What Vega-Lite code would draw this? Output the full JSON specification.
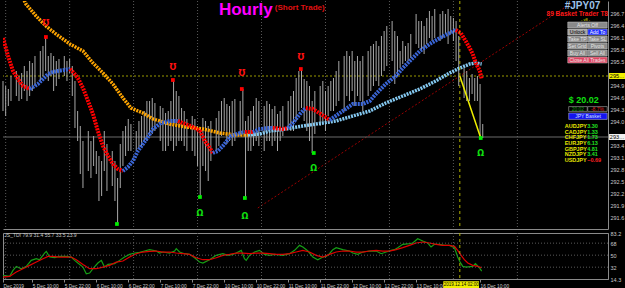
{
"$schema":"https://vega.github.io/schema/vega-lite/v6.json",
"background":"#000000",
"padding":0,
"spacing":0,
"config":{"view":{"stroke":null},"font":"Liberation Sans","axis":{"grid":false,"labelFont":"Liberation Sans","labelColor":"#d0d0d0","labelFontSize":6,"domainColor":"#8a8a8a","tickColor":"#8a8a8a","labelOverlap":false}},
"resolve":{"scale":{"color":"independent","x":"independent","y":"independent"}},
"datasets":{
"grid":[{"t":1},{"t":25},{"t":49},{"t":73},{"t":97},{"t":121},{"t":145},{"t":169},{"t":193}],
"candles":[{"t":0,"hi":295,"lo":294.25},{"t":1,"hi":294.875,"lo":294.125},{"t":2,"hi":294.8,"lo":294.375},{"t":3,"hi":295.125,"lo":294.5},{"t":5,"hi":295.25,"lo":294.625},{"t":6,"hi":295.125,"lo":294.5},{"t":7,"hi":295.2,"lo":294.55},{"t":8,"hi":295.375,"lo":294.75},{"t":9,"hi":295.25,"lo":294.5},{"t":10,"hi":295.5,"lo":294.625},{"t":11,"hi":295.45,"lo":294.75},{"t":12,"hi":295.625,"lo":294.875},{"t":14,"hi":295.75,"lo":295},{"t":15,"hi":295.875,"lo":295.125},{"t":16,"hi":296.1,"lo":295.25},{"t":17,"hi":295.625,"lo":295},{"t":18,"hi":295.7,"lo":295.125},{"t":19,"hi":295.625,"lo":294.75},{"t":20,"hi":295.5,"lo":294.875},{"t":21,"hi":295.55,"lo":295.05},{"t":23,"hi":295.625,"lo":295.125},{"t":24,"hi":295.5,"lo":295},{"t":25,"hi":295.55,"lo":295.2},{"t":26,"hi":295.375,"lo":294.625},{"t":27,"hi":295,"lo":293.825},{"t":28,"hi":294.25,"lo":293.5},{"t":29,"hi":293.875,"lo":292.675},{"t":30,"hi":293.5,"lo":292.325},{"t":32,"hi":293.75,"lo":292.75},{"t":33,"hi":293.5,"lo":292.575},{"t":34,"hi":293.625,"lo":292.875},{"t":35,"hi":293.25,"lo":292.675},{"t":36,"hi":293.125,"lo":292},{"t":37,"hi":293,"lo":292.125},{"t":38,"hi":293.75,"lo":292.75},{"t":39,"hi":293.425,"lo":292.25},{"t":41,"hi":293.25,"lo":292.375},{"t":42,"hi":293,"lo":292},{"t":43,"hi":292.575,"lo":291.425},{"t":44,"hi":293.425,"lo":292.325},{"t":45,"hi":293.75,"lo":292.875},{"t":46,"hi":293.875,"lo":293.125},{"t":47,"hi":294.05,"lo":293.25},{"t":48,"hi":293.925,"lo":293.25},{"t":50,"hi":293.75,"lo":293.25},{"t":51,"hi":294,"lo":293.3},{"t":52,"hi":294.125,"lo":293.375},{"t":53,"hi":294.25,"lo":293.5},{"t":54,"hi":294.5,"lo":293.5},{"t":55,"hi":294.5,"lo":293.625},{"t":56,"hi":294.575,"lo":293.675},{"t":57,"hi":294.45,"lo":293.75},{"t":59,"hi":294.375,"lo":293.5},{"t":60,"hi":294.325,"lo":293.25},{"t":61,"hi":294.2,"lo":293.25},{"t":62,"hi":294.25,"lo":293.375},{"t":63,"hi":294.5,"lo":293.5},{"t":64,"hi":295.025,"lo":293.25},{"t":65,"hi":294.75,"lo":293.375},{"t":66,"hi":294.625,"lo":293.5},{"t":67,"hi":294.325,"lo":293.5},{"t":68,"hi":294.25,"lo":293.375},{"t":69,"hi":294.05,"lo":293.25},{"t":71,"hi":294.125,"lo":293.25},{"t":72,"hi":294.05,"lo":293.125},{"t":73,"hi":293.875,"lo":292.875},{"t":74,"hi":293.75,"lo":292.1},{"t":75,"hi":294.075,"lo":292.875},{"t":76,"hi":294,"lo":292.75},{"t":77,"hi":293.875,"lo":292.5},{"t":78,"hi":294,"lo":293},{"t":80,"hi":294.075,"lo":293.25},{"t":81,"hi":294.25,"lo":293.375},{"t":82,"hi":294.5,"lo":293.625},{"t":83,"hi":294.575,"lo":293.75},{"t":84,"hi":294.425,"lo":293.425},{"t":85,"hi":294.375,"lo":293.5},{"t":86,"hi":294.5,"lo":293.375},{"t":87,"hi":294.55,"lo":293.5},{"t":89,"hi":294.5,"lo":293.625},{"t":90,"hi":294.8,"lo":293.675},{"t":91,"hi":294,"lo":292.075},{"t":92,"hi":294.125,"lo":293.25},{"t":93,"hi":294.25,"lo":293.25},{"t":94,"hi":294.375,"lo":293.375},{"t":95,"hi":294.575,"lo":293.5},{"t":96,"hi":294.5,"lo":293.375},{"t":98,"hi":294.375,"lo":293.25},{"t":99,"hi":294.5,"lo":293.5},{"t":100,"hi":294.425,"lo":293.5},{"t":101,"hi":294.3,"lo":293.375},{"t":102,"hi":294.375,"lo":293.5},{"t":103,"hi":294.175,"lo":293.25},{"t":104,"hi":294.25,"lo":293.5},{"t":105,"hi":294.375,"lo":293.625},{"t":107,"hi":294.5,"lo":293.825},{"t":108,"hi":294.625,"lo":293.75},{"t":109,"hi":294.75,"lo":293.75},{"t":110,"hi":295.075,"lo":294},{"t":111,"hi":295.25,"lo":294.25},{"t":112,"hi":295.3,"lo":294.325},{"t":113,"hi":295.05,"lo":294},{"t":114,"hi":295,"lo":293.75},{"t":115,"hi":294.875,"lo":293.5},{"t":116,"hi":294.5,"lo":293.2},{"t":117,"hi":294.75,"lo":293.675},{"t":119,"hi":294.875,"lo":293.875},{"t":120,"hi":295,"lo":294},{"t":121,"hi":294.75,"lo":293.75},{"t":122,"hi":294.875,"lo":294.125},{"t":123,"hi":295,"lo":294.25},{"t":124,"hi":295.075,"lo":294.25},{"t":125,"hi":295.25,"lo":294.375},{"t":126,"hi":295.5,"lo":294.5},{"t":128,"hi":295.625,"lo":294.25},{"t":129,"hi":295.75,"lo":294.625},{"t":130,"hi":295.625,"lo":294.5},{"t":131,"hi":295.75,"lo":294.75},{"t":132,"hi":295.5,"lo":294.375},{"t":133,"hi":295.625,"lo":294.625},{"t":134,"hi":295.5,"lo":294.5},{"t":135,"hi":295.625,"lo":294.25},{"t":137,"hi":295.75,"lo":294.625},{"t":138,"hi":295.875,"lo":294.75},{"t":139,"hi":295.925,"lo":294.875},{"t":140,"hi":296,"lo":295},{"t":141,"hi":295.875,"lo":294.875},{"t":142,"hi":296.125,"lo":295.125},{"t":143,"hi":296.25,"lo":295.25},{"t":144,"hi":296.375,"lo":295.375},{"t":146,"hi":296.5,"lo":295.5},{"t":147,"hi":296.25,"lo":294.925},{"t":148,"hi":296.125,"lo":295.125},{"t":149,"hi":295.75,"lo":295.325},{"t":150,"hi":296,"lo":295.425},{"t":151,"hi":295.875,"lo":295.5},{"t":152,"hi":295.95,"lo":295.5},{"t":153,"hi":296.175,"lo":295.575},{"t":155,"hi":296.675,"lo":295.925},{"t":156,"hi":296.5,"lo":295.825},{"t":157,"hi":296.5,"lo":295.75},{"t":158,"hi":296.375,"lo":295.675},{"t":159,"hi":296.575,"lo":295.925},{"t":160,"hi":296.75,"lo":296.075},{"t":161,"hi":296.625,"lo":296},{"t":162,"hi":296.8,"lo":296.075},{"t":164,"hi":296.675,"lo":296},{"t":165,"hi":296.75,"lo":296.075},{"t":166,"hi":296.675,"lo":296.175},{"t":167,"hi":296.8,"lo":295.925},{"t":168,"hi":296.625,"lo":296.175},{"t":169,"hi":296.575,"lo":296},{"t":170,"hi":296.5,"lo":295.5},{"t":171,"hi":296.125,"lo":294.875},{"t":173,"hi":295.325,"lo":294.575},{"t":174,"hi":295.25,"lo":294.5},{"t":175,"hi":295.075,"lo":294.5},{"t":176,"hi":295.175,"lo":294.675},{"t":177,"hi":295.075,"lo":294.5},{"t":178,"hi":295.125,"lo":294.5},{"t":179,"hi":294.925,"lo":293.575},{"t":180,"hi":293.925,"lo":293.575}],
"fast":[{"t":0,"p":296.075,"s":1,"c":"dn"},{"t":1.9,"p":295.625,"s":1,"c":"dn"},{"t":3.75,"p":295.25,"s":1,"c":"dn"},{"t":5.6,"p":295.05,"s":1,"c":"dn"},{"t":7.5,"p":294.875,"s":1,"c":"dn"},{"t":10.1,"p":294.8,"s":1,"c":"dn"},
{"t":10.1,"p":294.8,"s":2,"c":"up"},{"t":13.1,"p":294.925,"s":2,"c":"up"},{"t":15,"p":295.05,"s":2,"c":"up"},{"t":16.9,"p":295.175,"s":2,"c":"up"},{"t":18.75,"p":295.225,"s":2,"c":"up"},{"t":20.6,"p":295.25,"s":2,"c":"up"},{"t":25.1,"p":295.3,"s":2,"c":"up"},
{"t":25.1,"p":295.3,"s":3,"c":"dn"},{"t":26.25,"p":295.225,"s":3,"c":"dn"},{"t":28.1,"p":295.075,"s":3,"c":"dn"},{"t":30,"p":294.825,"s":3,"c":"dn"},{"t":31.9,"p":294.5,"s":3,"c":"dn"},{"t":33.75,"p":294.175,"s":3,"c":"dn"},{"t":35.6,"p":293.75,"s":3,"c":"dn"},{"t":37.5,"p":293.375,"s":3,"c":"dn"},{"t":39.4,"p":293.125,"s":3,"c":"dn"},{"t":41.25,"p":292.925,"s":3,"c":"dn"},{"t":43.1,"p":292.8,"s":3,"c":"dn"},{"t":45,"p":292.75,"s":3,"c":"dn"},
{"t":45,"p":292.75,"s":4,"c":"up"},{"t":46.9,"p":292.85,"s":4,"c":"up"},{"t":48.75,"p":293,"s":4,"c":"up"},{"t":50.6,"p":293.25,"s":4,"c":"up"},{"t":52.5,"p":293.425,"s":4,"c":"up"},{"t":54.4,"p":293.6,"s":4,"c":"up"},{"t":56.25,"p":293.8,"s":4,"c":"up"},{"t":59.25,"p":293.95,"s":4,"c":"up"},{"t":62.6,"p":294,"s":4,"c":"up"},{"t":65.6,"p":294,"s":4,"c":"up"},
{"t":65.6,"p":294,"s":5,"c":"dn"},{"t":67.5,"p":293.95,"s":5,"c":"dn"},{"t":71.25,"p":293.85,"s":5,"c":"dn"},{"t":73.9,"p":293.75,"s":5,"c":"dn"},{"t":75.75,"p":293.5,"s":5,"c":"dn"},{"t":77.6,"p":293.325,"s":5,"c":"dn"},{"t":78.75,"p":293.2,"s":5,"c":"dn"},
{"t":78.75,"p":293.2,"s":6,"c":"up"},{"t":80.6,"p":293.25,"s":6,"c":"up"},{"t":82.5,"p":293.375,"s":6,"c":"up"},{"t":85.5,"p":293.625,"s":6,"c":"up"},{"t":88.9,"p":293.7,"s":6,"c":"up"},{"t":90.75,"p":293.725,"s":6,"c":"up"},
{"t":90.75,"p":293.725,"s":7,"c":"dn"},{"t":93.75,"p":293.725,"s":7,"c":"dn"},
{"t":93.75,"p":293.725,"s":8,"c":"up"},{"t":96.4,"p":293.8,"s":8,"c":"up"},{"t":100.1,"p":293.825,"s":8,"c":"up"},{"t":101.25,"p":293.825,"s":8,"c":"up"},
{"t":101.25,"p":293.825,"s":9,"c":"dn"},{"t":105,"p":293.8,"s":9,"c":"dn"},{"t":106.9,"p":293.825,"s":9,"c":"dn"},
{"t":106.9,"p":293.825,"s":10,"c":"up"},{"t":108.75,"p":293.95,"s":10,"c":"up"},{"t":111.4,"p":294.175,"s":10,"c":"up"},{"t":113.6,"p":294.325,"s":10,"c":"up"},
{"t":113.6,"p":294.325,"s":11,"c":"dn"},{"t":116.25,"p":294.3,"s":11,"c":"dn"},{"t":119.25,"p":294.175,"s":11,"c":"dn"},{"t":122.6,"p":294.025,"s":11,"c":"dn"},
{"t":122.6,"p":294.025,"s":12,"c":"up"},{"t":127.5,"p":294.25,"s":12,"c":"up"},{"t":131.25,"p":294.425,"s":12,"c":"up"},{"t":135,"p":294.425,"s":12,"c":"up"},{"t":137.6,"p":294.5,"s":12,"c":"up"},{"t":139.9,"p":294.675,"s":12,"c":"up"},{"t":143.6,"p":294.925,"s":12,"c":"up"},{"t":147.4,"p":295.125,"s":12,"c":"up"},{"t":150,"p":295.325,"s":12,"c":"up"},{"t":153.75,"p":295.575,"s":12,"c":"up"},{"t":156.4,"p":295.75,"s":12,"c":"up"},{"t":160.1,"p":295.925,"s":12,"c":"up"},{"t":163.9,"p":296.075,"s":12,"c":"up"},{"t":167.6,"p":296.2,"s":12,"c":"up"},{"t":169.9,"p":296.275,"s":12,"c":"up"},
{"t":169.9,"p":296.275,"s":13,"c":"dn"},{"t":171.75,"p":296.2,"s":13,"c":"dn"},{"t":173.6,"p":296,"s":13,"c":"dn"},{"t":175.1,"p":295.825,"s":13,"c":"dn"},{"t":176.25,"p":295.675,"s":13,"c":"dn"},{"t":177.4,"p":295.45,"s":13,"c":"dn"},{"t":178.9,"p":295.25,"s":13,"c":"dn"},{"t":179.6,"p":295.05,"s":13,"c":"dn"}],
"slow":[{"t":7,"p":297.15,"s":1,"c":"old"},{"t":8.6,"p":296.925,"s":1,"c":"old"},{"t":12.4,"p":296.625,"s":1,"c":"old"},{"t":16.1,"p":296.375,"s":1,"c":"old"},{"t":19.9,"p":296.175,"s":1,"c":"old"},{"t":25.1,"p":295.925,"s":1,"c":"old"},{"t":30,"p":295.75,"s":1,"c":"old"},{"t":33.75,"p":295.45,"s":1,"c":"old"},{"t":37.5,"p":295.2,"s":1,"c":"old"},{"t":41.25,"p":294.925,"s":1,"c":"old"},{"t":45,"p":294.575,"s":1,"c":"old"},{"t":48,"p":294.325,"s":1,"c":"old"},{"t":52.5,"p":294.2,"s":1,"c":"old"},{"t":56.25,"p":294.05,"s":1,"c":"old"},{"t":62.6,"p":293.925,"s":1,"c":"old"},{"t":68.6,"p":293.85,"s":1,"c":"old"},{"t":75,"p":293.8,"s":1,"c":"old"},{"t":81.4,"p":293.7,"s":1,"c":"old"},{"t":87.4,"p":293.65,"s":1,"c":"old"},{"t":91.9,"p":293.65,"s":1,"c":"old"},
{"t":91.9,"p":293.65,"s":2,"c":"new"},{"t":96.4,"p":293.675,"s":2,"c":"new"},{"t":100.1,"p":293.75,"s":2,"c":"new"},{"t":106.1,"p":293.8,"s":2,"c":"new"},{"t":112.5,"p":293.875,"s":2,"c":"new"},{"t":120,"p":293.95,"s":2,"c":"new"},{"t":124.9,"p":294,"s":2,"c":"new"},{"t":131.25,"p":294.125,"s":2,"c":"new"},{"t":137.6,"p":294.25,"s":2,"c":"new"},{"t":143.6,"p":294.45,"s":2,"c":"new"},{"t":150,"p":294.625,"s":2,"c":"new"},{"t":156.4,"p":294.8,"s":2,"c":"new"},{"t":162.4,"p":295,"s":2,"c":"new"},{"t":167.6,"p":295.2,"s":2,"c":"new"},{"t":171.4,"p":295.325,"s":2,"c":"new"},{"t":175.1,"p":295.425,"s":2,"c":"new"},{"t":177.4,"p":295.45,"s":2,"c":"new"},{"t":179.6,"p":295.425,"s":2,"c":"new"}],
"dots":[{"t":16.1,"p":296.1,"c":"hi"},{"t":63.75,"p":295.025,"c":"hi"},{"t":89.6,"p":294.8,"c":"hi"},{"t":111.75,"p":295.3,"c":"hi"},{"t":42.75,"p":291.425,"c":"lo"},{"t":73.9,"p":292.1,"c":"lo"},{"t":90.75,"p":292.075,"c":"lo"},{"t":116.6,"p":293.2,"c":"lo"},{"t":179.25,"p":293.575,"c":"lo"}],
"syms":[{"t":16.1,"p":296.5,"c":"hi"},{"t":63.75,"p":295.4,"c":"hi"},{"t":89.6,"p":295.25,"c":"hi"},{"t":111.75,"p":295.65,"c":"hi"},{"t":73.9,"p":291.675,"c":"lo"},{"t":90.75,"p":291.6,"c":"lo"},{"t":116.6,"p":292.8,"c":"lo"},{"t":179.25,"p":293.175,"c":"lo"}],
"btn":[{"lab":"Alerts Off","k":"g","x1":211.9,"x2":226.7,"y1":296.475,"y2":296.325,"cx":219.3,"cy":296.4},{"lab":"Unlock","k":"u","x1":211.9,"x2":219.2,"y1":296.3,"y2":296.15,"cx":215.55,"cy":296.225},{"lab":"Add To","k":"b","x1":219.4,"x2":226.7,"y1":296.3,"y2":296.15,"cx":223.05,"cy":296.225},{"lab":"Take TP","k":"g","x1":211.9,"x2":219.2,"y1":296.125,"y2":295.975,"cx":215.55,"cy":296.05},{"lab":"Take SL","k":"g","x1":219.4,"x2":226.7,"y1":296.125,"y2":295.975,"cx":223.05,"cy":296.05},{"lab":"Set Grid","k":"g","x1":211.9,"x2":219.2,"y1":295.95,"y2":295.8,"cx":215.55,"cy":295.875},{"lab":"Pivots","k":"g","x1":219.4,"x2":226.7,"y1":295.95,"y2":295.8,"cx":223.05,"cy":295.875},{"lab":"Buy All","k":"g","x1":211.9,"x2":219.2,"y1":295.775,"y2":295.625,"cx":215.55,"cy":295.7},{"lab":"Sell All","k":"g","x1":219.4,"x2":226.7,"y1":295.775,"y2":295.625,"cx":223.05,"cy":295.7},{"lab":"Close All Trades","k":"r","x1":211.9,"x2":226.7,"y1":295.6,"y2":295.45,"cx":219.3,"cy":295.525},{"lab":"20.02","k":"bx","x1":212.25,"x2":219.2,"y1":294.36,"y2":294.24,"cx":215.7,"cy":294.3},{"lab":"-8.7%","k":"bn","x1":219.4,"x2":226.7,"y1":294.36,"y2":294.24,"cx":223.05,"cy":294.3},{"lab":"JPY Basket","k":"jb","x1":212.25,"x2":226.7,"y1":294.2,"y2":294.04,"cx":219.5,"cy":294.12}],
"pairs":[{"n":"AUDJPY","v":3.30,"p":293.875},{"n":"CADJPY","v":1.33,"p":293.725},{"n":"CHFJPY","v":1.73,"p":293.59},{"n":"EURJPY","v":6.13,"p":293.45},{"n":"GBPJPY","v":4.81,"p":293.31},{"n":"NZDJPY","v":3.41,"p":293.175},{"n":"USDJPY","v":-0.69,"p":293.025}],
"tdi":[{"t":0,"v":19.7,"s":"g"},{"t":2.5,"v":18.2,"s":"g"},{"t":3.75,"v":27.2,"s":"g"},{"t":5,"v":33.2,"s":"g"},{"t":6.9,"v":29.7,"s":"g"},{"t":8.75,"v":33.2,"s":"g"},{"t":10.6,"v":42.2,"s":"g"},{"t":12.5,"v":44.7,"s":"g"},{"t":13.75,"v":43.2,"s":"g"},{"t":15.6,"v":53.2,"s":"g"},{"t":16.25,"v":55.7,"s":"g"},{"t":17.5,"v":47.2,"s":"g"},{"t":19.4,"v":46.2,"s":"g"},{"t":21.25,"v":48.2,"s":"g"},{"t":23.75,"v":48.2,"s":"g"},{"t":25.6,"v":47.2,"s":"g"},{"t":26.9,"v":42.2,"s":"g"},{"t":28.1,"v":38.2,"s":"g"},{"t":30,"v":32.2,"s":"g"},{"t":31.25,"v":22.2,"s":"g"},{"t":32.5,"v":23.2,"s":"g"},{"t":33.75,"v":29.7,"s":"g"},{"t":35.6,"v":38.2,"s":"g"},{"t":36.9,"v":42.2,"s":"g"},{"t":38.1,"v":32.2,"s":"g"},{"t":39.4,"v":36.2,"s":"g"},{"t":41.9,"v":37.2,"s":"g"},{"t":43.75,"v":42.2,"s":"g"},{"t":45.6,"v":47.2,"s":"g"},{"t":47.5,"v":51.2,"s":"g"},{"t":49.4,"v":53.2,"s":"g"},{"t":51.25,"v":54.2,"s":"g"},{"t":53.1,"v":56.2,"s":"g"},{"t":55,"v":58.2,"s":"g"},{"t":57.5,"v":56.2,"s":"g"},{"t":58.75,"v":53.2,"s":"g"},{"t":60,"v":54.7,"s":"g"},{"t":62.5,"v":53.2,"s":"g"},{"t":64.4,"v":56.2,"s":"g"},{"t":65,"v":59.7,"s":"g"},{"t":66.25,"v":54.7,"s":"g"},{"t":68.1,"v":52.2,"s":"g"},{"t":70,"v":51.2,"s":"g"},{"t":71.9,"v":46.2,"s":"g"},{"t":73.75,"v":39.7,"s":"g"},{"t":75,"v":38.2,"s":"g"},{"t":77.5,"v":43.2,"s":"g"},{"t":80,"v":49.7,"s":"g"},{"t":82.5,"v":52.2,"s":"g"},{"t":84.4,"v":49.7,"s":"g"},{"t":86.25,"v":51.2,"s":"g"},{"t":87.5,"v":53.2,"s":"g"},{"t":89.4,"v":57.2,"s":"g"},{"t":90.6,"v":44.7,"s":"g"},{"t":91.25,"v":42.2,"s":"g"},{"t":92.5,"v":49.7,"s":"g"},{"t":94.4,"v":54.7,"s":"g"},{"t":96.25,"v":57.2,"s":"g"},{"t":98.1,"v":51.2,"s":"g"},{"t":100,"v":49.7,"s":"g"},{"t":101.9,"v":51.2,"s":"g"},{"t":105,"v":49.7,"s":"g"},{"t":107.5,"v":52.2,"s":"g"},{"t":109.4,"v":57.2,"s":"g"},{"t":111.25,"v":64.7,"s":"g"},{"t":112.5,"v":62.2,"s":"g"},{"t":114.4,"v":56.2,"s":"g"},{"t":116.25,"v":47.2,"s":"g"},{"t":118.1,"v":43.2,"s":"g"},{"t":120,"v":47.2,"s":"g"},{"t":121.25,"v":48.2,"s":"g"},{"t":122.5,"v":52.2,"s":"g"},{"t":123.75,"v":58.2,"s":"g"},{"t":125,"v":61.2,"s":"g"},{"t":127.5,"v":58.2,"s":"g"},{"t":130,"v":56.2,"s":"g"},{"t":131.25,"v":53.2,"s":"g"},{"t":133.1,"v":51.2,"s":"g"},{"t":135,"v":54.7,"s":"g"},{"t":137.5,"v":56.2,"s":"g"},{"t":140,"v":56.2,"s":"g"},{"t":141.9,"v":52.2,"s":"g"},{"t":143.75,"v":54.7,"s":"g"},{"t":145.6,"v":57.2,"s":"g"},{"t":146.9,"v":58.2,"s":"g"},{"t":148.1,"v":61.2,"s":"g"},{"t":150,"v":66.2,"s":"g"},{"t":152.5,"v":67.2,"s":"g"},{"t":153.75,"v":68.2,"s":"g"},{"t":155.6,"v":74.7,"s":"g"},{"t":157.5,"v":71.2,"s":"g"},{"t":159.4,"v":68.2,"s":"g"},{"t":160.6,"v":62.2,"s":"g"},{"t":161.9,"v":66.2,"s":"g"},{"t":163.75,"v":66.2,"s":"g"},{"t":165.6,"v":64.7,"s":"g"},{"t":167.5,"v":64.7,"s":"g"},{"t":169.4,"v":61.2,"s":"g"},{"t":170.6,"v":47.2,"s":"g"},{"t":171.5,"v":39.7,"s":"g"},{"t":172.5,"v":33.2,"s":"g"},{"t":173.75,"v":32.2,"s":"g"},{"t":176.25,"v":33.2,"s":"g"},{"t":177.25,"v":37.2,"s":"g"},{"t":178.75,"v":31.2,"s":"g"},{"t":179.6,"v":26.2,"s":"g"},
{"t":0,"v":17.2,"s":"r"},{"t":2.5,"v":18.2,"s":"r"},{"t":5,"v":24.7,"s":"r"},{"t":7.5,"v":29.7,"s":"r"},{"t":10,"v":34.7,"s":"r"},{"t":12.5,"v":39.7,"s":"r"},{"t":15,"v":44.7,"s":"r"},{"t":16.9,"v":48.2,"s":"r"},{"t":18.75,"v":48.2,"s":"r"},{"t":21.25,"v":47.2,"s":"r"},{"t":23.75,"v":47.2,"s":"r"},{"t":25.6,"v":47.2,"s":"r"},{"t":27.5,"v":43.2,"s":"r"},{"t":30,"v":36.2,"s":"r"},{"t":32.5,"v":29.7,"s":"r"},{"t":35,"v":29.7,"s":"r"},{"t":37.5,"v":32.2,"s":"r"},{"t":40,"v":34.7,"s":"r"},{"t":42.5,"v":39.7,"s":"r"},{"t":45,"v":41.2,"s":"r"},{"t":47.5,"v":47.2,"s":"r"},{"t":50,"v":52.2,"s":"r"},{"t":52.5,"v":54.7,"s":"r"},{"t":55,"v":55.7,"s":"r"},{"t":57.5,"v":56.2,"s":"r"},{"t":60,"v":54.7,"s":"r"},{"t":62.5,"v":54.7,"s":"r"},{"t":65,"v":53.2,"s":"r"},{"t":67.5,"v":52.2,"s":"r"},{"t":70,"v":51.2,"s":"r"},{"t":72.5,"v":46.2,"s":"r"},{"t":75,"v":43.2,"s":"r"},{"t":77.5,"v":43.2,"s":"r"},{"t":80,"v":46.2,"s":"r"},{"t":82.5,"v":49.7,"s":"r"},{"t":85,"v":51.2,"s":"r"},{"t":87.5,"v":53.2,"s":"r"},{"t":90,"v":53.2,"s":"r"},{"t":92.5,"v":52.2,"s":"r"},{"t":95,"v":53.2,"s":"r"},{"t":97.5,"v":53.2,"s":"r"},{"t":100,"v":52.2,"s":"r"},{"t":102.5,"v":51.2,"s":"r"},{"t":105,"v":51.2,"s":"r"},{"t":107.5,"v":52.2,"s":"r"},{"t":110,"v":54.7,"s":"r"},{"t":112.5,"v":57.2,"s":"r"},{"t":115,"v":54.7,"s":"r"},{"t":117.5,"v":49.7,"s":"r"},{"t":120,"v":47.2,"s":"r"},{"t":122.5,"v":51.2,"s":"r"},{"t":125,"v":54.7,"s":"r"},{"t":127.5,"v":56.2,"s":"r"},{"t":130,"v":56.2,"s":"r"},{"t":132.5,"v":54.7,"s":"r"},{"t":135,"v":54.7,"s":"r"},{"t":137.5,"v":56.2,"s":"r"},{"t":140,"v":57.2,"s":"r"},{"t":142.5,"v":56.2,"s":"r"},{"t":145,"v":56.2,"s":"r"},{"t":147.5,"v":58.2,"s":"r"},{"t":150,"v":61.2,"s":"r"},{"t":152.5,"v":64.7,"s":"r"},{"t":155,"v":68.2,"s":"r"},{"t":157.5,"v":69.7,"s":"r"},{"t":160,"v":68.2,"s":"r"},{"t":162.5,"v":66.2,"s":"r"},{"t":165,"v":64.7,"s":"r"},{"t":167.5,"v":64.7,"s":"r"},{"t":169.4,"v":63.2,"s":"r"},{"t":170.6,"v":57.2,"s":"r"},{"t":171.9,"v":49.7,"s":"r"},{"t":173.1,"v":43.2,"s":"r"},{"t":174.4,"v":38.2,"s":"r"},{"t":176.25,"v":34.7,"s":"r"},{"t":178.1,"v":33.2,"s":"r"},{"t":179.6,"v":31.2,"s":"r"}]
},
"vconcat":[
{"width":605,"height":228,
"layer":[
{"data":{"values":[{"t":95.6,"p":291.825,"t2":214.5,"p2":297}]},"mark":{"type":"rule","color":"#9a0000","strokeDash":[2,2],"clip":true},
 "encoding":{"x":{"field":"t","type":"quantitative","scale":{"domain":[0,227],"nice":false,"zero":false},"axis":{"orient":"bottom","labels":false,"ticks":false,"title":null,"domainColor":"#8a8a8a","minExtent":0,"maxExtent":0,"labelPadding":0}},"x2":{"field":"t2"},
 "y":{"field":"p","type":"quantitative","scale":{"domain":[291.3,297],"nice":false,"zero":false},"axis":{"orient":"right","title":null,"values":[291.6,291.9,292.2,292.5,292.8,293.1,293.4,294,294.3,294.6,294.9,295.5,295.8,296.1,296.4,296.7],"tickCount":60,"format":".1f","ticks":false,"tickSize":0,"labelPadding":2,"labelFontSize":5.5,"labelOverlap":false,"labelColor":"#c8c8c8","domainColor":"#8a8a8a"}},"y2":{"field":"p2"}}},
{"data":{"name":"grid"},"mark":{"type":"rule","color":"#5a5a5a","strokeDash":[1,2]},
 "encoding":{"x":{"field":"t","type":"quantitative","scale":{"domain":[0,227],"nice":false,"zero":false},"axis":{"title":null}}}},
{"data":{"values":[{"p":295.125}]},"mark":{"type":"rule","color":"#9a9a00","strokeDash":[2,2]},
 "encoding":{"y":{"field":"p","type":"quantitative","scale":{"domain":[291.3,297],"nice":false,"zero":false},"axis":{"title":null}}}},
{"data":{"values":[{"p":293.6}]},"mark":{"type":"rule","color":"#6a6a6a"},
 "encoding":{"y":{"field":"p","type":"quantitative","scale":{"domain":[291.3,297],"nice":false,"zero":false},"axis":{"title":null}}}},
{"data":{"name":"candles"},"mark":{"type":"rule","color":"#a8a8a8","strokeWidth":1},
 "encoding":{"x":{"field":"t","type":"quantitative","scale":{"domain":[0,227],"nice":false,"zero":false},"axis":{"title":null}},"y":{"field":"hi","type":"quantitative","scale":{"domain":[291.3,297],"nice":false,"zero":false},"axis":{"title":null}},"y2":{"field":"lo"}}},
{"data":{"name":"slow"},"mark":{"type":"line","strokeWidth":3.5,"strokeDash":[2,1],"strokeCap":"butt","clip":true},
 "encoding":{"x":{"field":"t","type":"quantitative","scale":{"domain":[0,227],"nice":false,"zero":false},"axis":{"title":null}},"y":{"field":"p","type":"quantitative","scale":{"domain":[291.3,297],"nice":false,"zero":false},"axis":{"title":null}},"detail":{"field":"s"},"color":{"field":"c","type":"nominal","scale":{"domain":["dn","up","old","new"],"range":["#ff0000","#3a66d8","#ffa500","#84c8f0"]},"legend":null}}},
{"data":{"name":"fast"},"mark":{"type":"line","strokeWidth":4,"strokeDash":[2,1],"strokeCap":"butt","clip":true},
 "encoding":{"x":{"field":"t","type":"quantitative","scale":{"domain":[0,227],"nice":false,"zero":false},"axis":{"title":null}},"y":{"field":"p","type":"quantitative","scale":{"domain":[291.3,297],"nice":false,"zero":false},"axis":{"title":null}},"detail":{"field":"s"},"color":{"field":"c","type":"nominal","scale":{"domain":["dn","up","old","new"],"range":["#ff0000","#3a66d8","#ffa500","#84c8f0"]},"legend":null}}},
{"data":{"values":[{"t":171.4}]},"mark":{"type":"rule","color":"#b0b000","strokeDash":[3,3]},
 "encoding":{"x":{"field":"t","type":"quantitative","scale":{"domain":[0,227],"nice":false,"zero":false},"axis":{"title":null}}}},
{"data":{"values":[{"t":171.4,"p":295.125,"t2":179.25,"p2":293.575}]},"mark":{"type":"rule","color":"#f0f000","strokeWidth":1.5},
 "encoding":{"x":{"field":"t","type":"quantitative","scale":{"domain":[0,227],"nice":false,"zero":false},"axis":{"title":null}},"x2":{"field":"t2"},"y":{"field":"p","type":"quantitative","scale":{"domain":[291.3,297],"nice":false,"zero":false},"axis":{"title":null}},"y2":{"field":"p2"}}},
{"data":{"name":"dots"},"mark":{"type":"point","shape":"square","filled":true,"size":14,"opacity":1},
 "encoding":{"x":{"field":"t","type":"quantitative","scale":{"domain":[0,227],"nice":false,"zero":false},"axis":{"title":null}},"y":{"field":"p","type":"quantitative","scale":{"domain":[291.3,297],"nice":false,"zero":false},"axis":{"title":null}},"color":{"condition":{"test":"datum.c=='hi'","value":"#ff0000"},"value":"#00ee00"}}},
{"data":{"name":"syms"},"transform":[{"filter":"datum.c=='hi'"}],"mark":{"type":"text","text":"Ω","fontSize":8,"fontWeight":"bold","font":"DejaVu Sans","angle":180,"color":"#ff1010","baseline":"middle"},
 "encoding":{"x":{"field":"t","type":"quantitative","scale":{"domain":[0,227],"nice":false,"zero":false},"axis":{"title":null}},"y":{"field":"p","type":"quantitative","scale":{"domain":[291.3,297],"nice":false,"zero":false},"axis":{"title":null}}}},
{"data":{"name":"syms"},"transform":[{"filter":"datum.c=='lo'"}],"mark":{"type":"text","text":"Ω","fontSize":8,"fontWeight":"bold","font":"DejaVu Sans","color":"#10e010","baseline":"middle"},
 "encoding":{"x":{"field":"t","type":"quantitative","scale":{"domain":[0,227],"nice":false,"zero":false},"axis":{"title":null}},"y":{"field":"p","type":"quantitative","scale":{"domain":[291.3,297],"nice":false,"zero":false},"axis":{"title":null}}}},
{"data":{"values":[{"t":81,"p":296.65,"txt":"Hourly"}]},"mark":{"type":"text","fontSize":17,"fontWeight":"bold","color":"#ff00ff","align":"left","baseline":"alphabetic","clip":true},
 "encoding":{"x":{"field":"t","type":"quantitative","scale":{"domain":[0,227],"nice":false,"zero":false},"axis":{"title":null}},"y":{"field":"p","type":"quantitative","scale":{"domain":[291.3,297],"nice":false,"zero":false},"axis":{"title":null}},"text":{"field":"txt"}}},
{"data":{"values":[{"t":102,"p":296.775,"txt":"(Short Trade)"}]},"mark":{"type":"text","fontSize":8,"fontWeight":"bold","color":"#e01010","align":"left","baseline":"alphabetic","clip":true},
 "encoding":{"x":{"field":"t","type":"quantitative","scale":{"domain":[0,227],"nice":false,"zero":false},"axis":{"title":null}},"y":{"field":"p","type":"quantitative","scale":{"domain":[291.3,297],"nice":false,"zero":false},"axis":{"title":null}},"text":{"field":"txt"}}},
{"data":{"values":[{"t":210.75,"p":296.8,"txt":"#JPY07"}]},"mark":{"type":"text","fontSize":10,"fontWeight":"bold","color":"#9cc3ea","align":"left","baseline":"alphabetic","clip":true},
 "encoding":{"x":{"field":"t","type":"quantitative","scale":{"domain":[0,227],"nice":false,"zero":false},"axis":{"title":null}},"y":{"field":"p","type":"quantitative","scale":{"domain":[291.3,297],"nice":false,"zero":false},"axis":{"title":null}},"text":{"field":"txt"}}},
{"data":{"values":[{"t":227,"p":296.6175,"txt":"89 Basket Trader T8"}]},"mark":{"type":"text","fontSize":6.5,"fontWeight":"bold","color":"#ff1a1a","align":"right","baseline":"alphabetic","clip":true},
 "encoding":{"x":{"field":"t","type":"quantitative","scale":{"domain":[0,227],"nice":false,"zero":false},"axis":{"title":null}},"y":{"field":"p","type":"quantitative","scale":{"domain":[291.3,297],"nice":false,"zero":false},"axis":{"title":null}},"text":{"field":"txt"}}},
{"data":{"values":[{"t":218.6,"p":296.5,"txt":"- v8 -"}]},"mark":{"type":"text","fontSize":4,"color":"#e0e000","align":"center","baseline":"alphabetic","clip":true},
 "encoding":{"x":{"field":"t","type":"quantitative","scale":{"domain":[0,227],"nice":false,"zero":false},"axis":{"title":null}},"y":{"field":"p","type":"quantitative","scale":{"domain":[291.3,297],"nice":false,"zero":false},"axis":{"title":null}},"text":{"field":"txt"}}},
{"data":{"name":"btn"},"mark":{"type":"rect","stroke":"#c8c8c8","strokeWidth":0.5},
 "encoding":{"x":{"field":"x1","type":"quantitative","scale":{"domain":[0,227],"nice":false,"zero":false},"axis":{"title":null}},"x2":{"field":"x2"},"y":{"field":"y1","type":"quantitative","scale":{"domain":[291.3,297],"nice":false,"zero":false},"axis":{"title":null}},"y2":{"field":"y2"},
 "fill":{"condition":[{"test":"datum.k=='b'","value":"#1c2cff"},{"test":"datum.k=='r'","value":"#e04462"},{"test":"datum.k=='u'","value":"#a4a4a4"},{"test":"datum.k=='bx'||datum.k=='bn'","value":"#000000"},{"test":"datum.k=='jb'","value":"#1414f0"}],"value":"#8a8a8a"}}},
{"data":{"name":"btn"},"mark":{"type":"text","fontSize":5,"baseline":"middle","align":"center"},
 "encoding":{"x":{"field":"cx","type":"quantitative","scale":{"domain":[0,227],"nice":false,"zero":false},"axis":{"title":null}},"y":{"field":"cy","type":"quantitative","scale":{"domain":[291.3,297],"nice":false,"zero":false},"axis":{"title":null}},"text":{"field":"lab"},
 "color":{"condition":[{"test":"datum.k=='u'","value":"#000000"},{"test":"datum.k=='bx'","value":"#10a010"},{"test":"datum.k=='bn'","value":"#e02020"},{"test":"datum.k=='jb'","value":"#d0e0ff"},{"test":"datum.k=='b'","value":"#ffffff"}],"value":"#e6e6e6"}}},
{"data":{"values":[{"t":212.25,"p":294.45,"txt":"$ 20.02"}]},"mark":{"type":"text","fontSize":9,"fontWeight":"bold","color":"#10e010","align":"left","baseline":"alphabetic"},
 "encoding":{"x":{"field":"t","type":"quantitative","scale":{"domain":[0,227],"nice":false,"zero":false},"axis":{"title":null}},"y":{"field":"p","type":"quantitative","scale":{"domain":[291.3,297],"nice":false,"zero":false},"axis":{"title":null}},"text":{"field":"txt"}}},
{"data":{"name":"pairs"},"mark":{"type":"text","fontSize":5.5,"fontWeight":"bold","color":"#e8e800","align":"left","baseline":"middle"},
 "encoding":{"x":{"datum":210.75,"type":"quantitative","scale":{"domain":[0,227],"nice":false,"zero":false},"axis":{"title":null}},"y":{"field":"p","type":"quantitative","scale":{"domain":[291.3,297],"nice":false,"zero":false},"axis":{"title":null}},"text":{"field":"n"}}},
{"data":{"name":"pairs"},"mark":{"type":"text","fontSize":5.5,"fontWeight":"bold","align":"left","baseline":"middle"},
 "encoding":{"x":{"datum":219.2,"type":"quantitative","scale":{"domain":[0,227],"nice":false,"zero":false},"axis":{"title":null}},"y":{"field":"p","type":"quantitative","scale":{"domain":[291.3,297],"nice":false,"zero":false},"axis":{"title":null}},"text":{"field":"v","format":".2f"},
 "color":{"condition":{"test":"datum.v<0","value":"#ff2020"},"value":"#20e020"}}},
{"data":{"values":[{"t":227.4,"t2":234,"p":295.2,"p2":295.05}]},"mark":{"type":"rect","color":"#f0f000"},
 "encoding":{"x":{"field":"t","type":"quantitative","scale":{"domain":[0,227],"nice":false,"zero":false},"axis":{"title":null}},"x2":{"field":"t2"},"y":{"field":"p","type":"quantitative","scale":{"domain":[291.3,297],"nice":false,"zero":false},"axis":{"title":null}},"y2":{"field":"p2"}}},
{"data":{"values":[{"t":227.4,"t2":234,"p":293.675,"p2":293.525}]},"mark":{"type":"rect","color":"#f0f0f0"},
 "encoding":{"x":{"field":"t","type":"quantitative","scale":{"domain":[0,227],"nice":false,"zero":false},"axis":{"title":null}},"x2":{"field":"t2"},"y":{"field":"p","type":"quantitative","scale":{"domain":[291.3,297],"nice":false,"zero":false},"axis":{"title":null}},"y2":{"field":"p2"}}},
{"data":{"values":[{"t":227.7,"p":295.125,"txt":"295.125"},{"t":227.7,"p":293.6,"txt":"293.598"}]},"mark":{"type":"text","fontSize":5.5,"color":"#000000","align":"left","baseline":"middle","limit":16,"ellipsis":""},
 "encoding":{"x":{"field":"t","type":"quantitative","scale":{"domain":[0,227],"nice":false,"zero":false},"axis":{"title":null}},"y":{"field":"p","type":"quantitative","scale":{"domain":[291.3,297],"nice":false,"zero":false},"axis":{"title":null}},"text":{"field":"txt"}}}
]},
{"width":605,"height":46,"view":{"stroke":"#8a8a8a"},
"layer":[
{"data":{"name":"tdi"},"mark":{"type":"line","strokeWidth":1.2},
 "encoding":{"x":{"field":"t","type":"quantitative","scale":{"domain":[0,227],"nice":false,"zero":false},"axis":{"orient":"bottom","title":null,"values":[0,11,23,35,47,59,71,83,95,107,119,131,143,155,179],"tickCount":60,"labelExpr":"['Dec 2019','5 Dec 10:00','5 Dec 22:00','6 Dec 10:00','6 Dec 22:00','7 Dec 10:00','7 Dec 22:00','10 Dec 10:00','10 Dec 22:00','11 Dec 10:00','11 Dec 22:00','12 Dec 10:00','12 Dec 22:00','13 Dec 10:00','13 Dec 22:00','16 Dec 10:00'][round((datum.value+1)/12)]","labelAlign":"left","labelFontSize":4.8,"labelColor":"#d0d0d0","tickSize":3,"labelPadding":1,"labelOverlap":false,"labelFlush":false}},
 "y":{"field":"v","type":"quantitative","scale":{"domain":[14.3,83.2],"nice":false,"zero":false},"axis":{"orient":"right","title":null,"values":[83.2,68,50,32,14.3],"tickCount":60,"labelExpr":"''+datum.value","ticks":false,"tickSize":0,"labelPadding":2,"labelFontSize":5.5,"labelOverlap":false,"labelColor":"#c8c8c8"}},
 "color":{"field":"s","type":"nominal","scale":{"domain":["g","r"],"range":["#15a015","#e00000"]},"legend":null}}},
{"data":{"name":"grid"},"mark":{"type":"rule","color":"#5a5a5a","strokeDash":[1,2]},
 "encoding":{"x":{"field":"t","type":"quantitative","scale":{"domain":[0,227],"nice":false,"zero":false},"axis":{"title":null}}}},
{"data":{"values":[{"v":68},{"v":50},{"v":32}]},"mark":{"type":"rule","color":"#5a5a5a","strokeDash":[1,2]},
 "encoding":{"y":{"field":"v","type":"quantitative","scale":{"domain":[14.3,83.2],"nice":false,"zero":false},"axis":{"title":null}}}},
{"data":{"values":[{"t":171.4}]},"mark":{"type":"rule","color":"#b0b000","strokeDash":[3,3]},
 "encoding":{"x":{"field":"t","type":"quantitative","scale":{"domain":[0,227],"nice":false,"zero":false},"axis":{"title":null}}}},
{"data":{"values":[{"t":0.5,"v":80.5,"txt":"JS_TDI 79.9 31.4 55.7 33.5 23.9"}]},"mark":{"type":"text","fontSize":5,"color":"#c8c8c8","align":"left","baseline":"middle"},
 "encoding":{"x":{"field":"t","type":"quantitative","scale":{"domain":[0,227],"nice":false,"zero":false},"axis":{"title":null}},"y":{"field":"v","type":"quantitative","scale":{"domain":[14.3,83.2],"nice":false,"zero":false},"axis":{"title":null}},"text":{"field":"txt"}}},
{"data":{"values":[{"t":165.2,"t2":178.6,"v":11,"v2":-1.5}]},"mark":{"type":"rect","color":"#f0f000"},
 "encoding":{"x":{"field":"t","type":"quantitative","scale":{"domain":[0,227],"nice":false,"zero":false},"axis":{"title":null}},"x2":{"field":"t2"},"y":{"field":"v","type":"quantitative","scale":{"domain":[14.3,83.2],"nice":false,"zero":false},"axis":{"title":null}},"y2":{"field":"v2"}}},
{"data":{"values":[{"t":171.9,"v":4.7,"txt":"2019.12.14 02:00"}]},"mark":{"type":"text","fontSize":4.5,"color":"#000000","align":"center","baseline":"middle"},
 "encoding":{"x":{"field":"t","type":"quantitative","scale":{"domain":[0,227],"nice":false,"zero":false},"axis":{"title":null}},"y":{"field":"v","type":"quantitative","scale":{"domain":[14.3,83.2],"nice":false,"zero":false},"axis":{"title":null}},"text":{"field":"txt"}}}
]}
]
}
